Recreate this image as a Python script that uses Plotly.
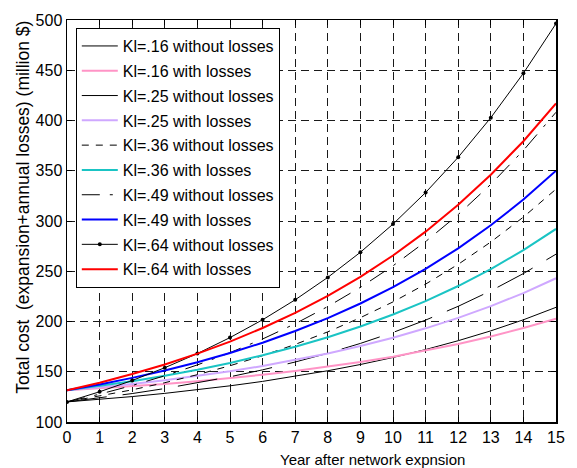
import plotly.graph_objects as go

years = list(range(16))

kl16_without = [120.0, 122.5, 125.3, 128.5, 132.0, 136.0, 140.4, 145.4, 151.0, 157.2, 164.2, 172.1, 180.9, 190.7, 201.7, 214.1]
kl16_with = [131.5, 133.4, 135.5, 137.9, 140.6, 143.6, 147.0, 150.8, 155.0, 159.7, 165.0, 171.0, 177.7, 185.1, 193.5, 202.9]
kl25_without = [120.0, 123.9, 128.3, 133.3, 138.8, 145.0, 151.9, 159.7, 168.4, 178.2, 189.1, 201.4, 215.1, 230.5, 247.7, 267.0]
kl25_with = [131.5, 134.5, 137.8, 141.6, 145.7, 150.4, 155.7, 161.6, 168.2, 175.6, 183.9, 193.2, 203.6, 215.3, 228.3, 243.0]
kl36_without = [120.0, 125.7, 132.0, 139.1, 147.1, 156.0, 166.0, 177.2, 189.7, 203.8, 219.5, 237.2, 256.9, 279.1, 303.9, 331.7]
kl36_with = [131.5, 135.8, 140.6, 146.0, 152.0, 158.8, 166.4, 174.8, 184.4, 195.0, 207.0, 220.3, 235.3, 252.1, 271.0, 292.1]
kl49_without = [120.0, 127.7, 136.3, 146.0, 156.8, 169.0, 182.6, 197.8, 214.9, 234.0, 255.4, 279.5, 306.4, 336.5, 370.3, 408.2]
kl49_with = [131.5, 137.3, 143.9, 151.2, 159.4, 168.6, 178.9, 190.5, 203.4, 217.9, 234.2, 252.4, 272.8, 295.7, 321.3, 350.0]
kl64_without = [120.0, 130.1, 141.3, 154.0, 168.1, 184.0, 201.7, 221.6, 243.9, 268.9, 296.9, 328.3, 363.4, 402.8, 447.0, 496.4]
kl64_with = [131.5, 139.1, 147.7, 157.2, 168.0, 180.0, 193.5, 208.6, 225.5, 244.4, 265.7, 289.4, 316.1, 346.0, 379.4, 416.9]

names = ["Kl=.16 without losses", "Kl=.16 with losses",
         "Kl=.25 without losses", "Kl=.25 with losses",
         "Kl=.36 without losses", "Kl=.36 with losses",
         "Kl=.49 without losses", "Kl=.49 with losses",
         "Kl=.64 without losses", "Kl=.64 with losses"]
series = [kl16_without, kl16_with, kl25_without, kl25_with, kl36_without,
          kl36_with, kl49_without, kl49_with, kl64_without, kl64_with]

styles = [
    dict(color="black", width=1, dash="solid"),
    dict(color="#ff94c6", width=2, dash="solid"),
    dict(color="black", width=1, dash="40px,16px"),
    dict(color="#cfa8ff", width=2, dash="solid"),
    dict(color="black", width=1, dash="7px,7px"),
    dict(color="#1ac4c4", width=2, dash="solid"),
    dict(color="black", width=1, dash="18px,10px,3px,10px"),
    dict(color="#0000ff", width=2, dash="solid"),
    dict(color="black", width=1, dash="solid"),
    dict(color="#ff0000", width=2, dash="solid"),
]

fig = go.Figure()
for i, (nm, ys, st) in enumerate(zip(names, series, styles)):
    mode = "lines+markers" if i == 8 else "lines"
    fig.add_trace(go.Scatter(
        x=years, y=ys, name=nm, mode=mode, line=st,
        marker=dict(size=4, color="black") if i == 8 else None,
        legendgroup=f"g{i}",
    ))

font_family = "Liberation Sans, Arial, Helvetica, sans-serif"
fig.update_layout(
    width=577, height=468,
    margin=dict(l=67, r=14, t=20, b=46),
    paper_bgcolor="white", plot_bgcolor="white",
    font=dict(family=font_family, size=16, color="black"),
    showlegend=True,
    legend=dict(x=0.018, y=0.98, xanchor="left", yanchor="top",
                bordercolor="black", borderwidth=1, bgcolor="white",
                font=dict(size=16), tracegroupgap=1, traceorder="grouped",
                itemwidth=36),
    xaxis=dict(range=[0, 15], dtick=1, tick0=0, ticks="inside", ticklen=5,
               tickcolor="black", showline=True, linecolor="black", linewidth=1.5,
               mirror="allticks", showgrid=True, gridcolor="#1a1a1a",
               griddash="8px,5px", gridwidth=1, zeroline=False,
               tickfont=dict(size=16)),
    yaxis=dict(range=[100, 500], dtick=50, tick0=100, ticks="inside", ticklen=5,
               tickcolor="black", showline=True, linecolor="black", linewidth=1.5,
               mirror="allticks", showgrid=True, gridcolor="#1a1a1a",
               griddash="8px,5px", gridwidth=1, zeroline=False,
               tickfont=dict(size=16)),
    annotations=[
        dict(text="Year after network expnsion", xref="paper", yref="paper",
             x=(377 - 67) / 496, y=(422 - 459) / 402, xanchor="center", yanchor="middle",
             showarrow=False, font=dict(size=15)),
        dict(text="Total cost  (expansion+annual losses) (million $)", xref="paper", yref="paper",
             x=(22 - 67) / 496, y=(422 - 207) / 402, xanchor="center", yanchor="middle",
             textangle=-90, showarrow=False, font=dict(size=17.5)),
    ],
)

fig.write_html("out.html", config={"displayModeBar": False, "staticPlot": True})

with open("out.html", "r", encoding="utf-8") as f:
    html = f.read()
html = html.replace("<body>", '<body style="margin:0;padding:0;overflow:hidden">', 1)
html = html.replace("<head>", "<head><style>html,body{margin:0;padding:0;}</style>", 1)
with open("out.html", "w", encoding="utf-8") as f:
    f.write(html)
